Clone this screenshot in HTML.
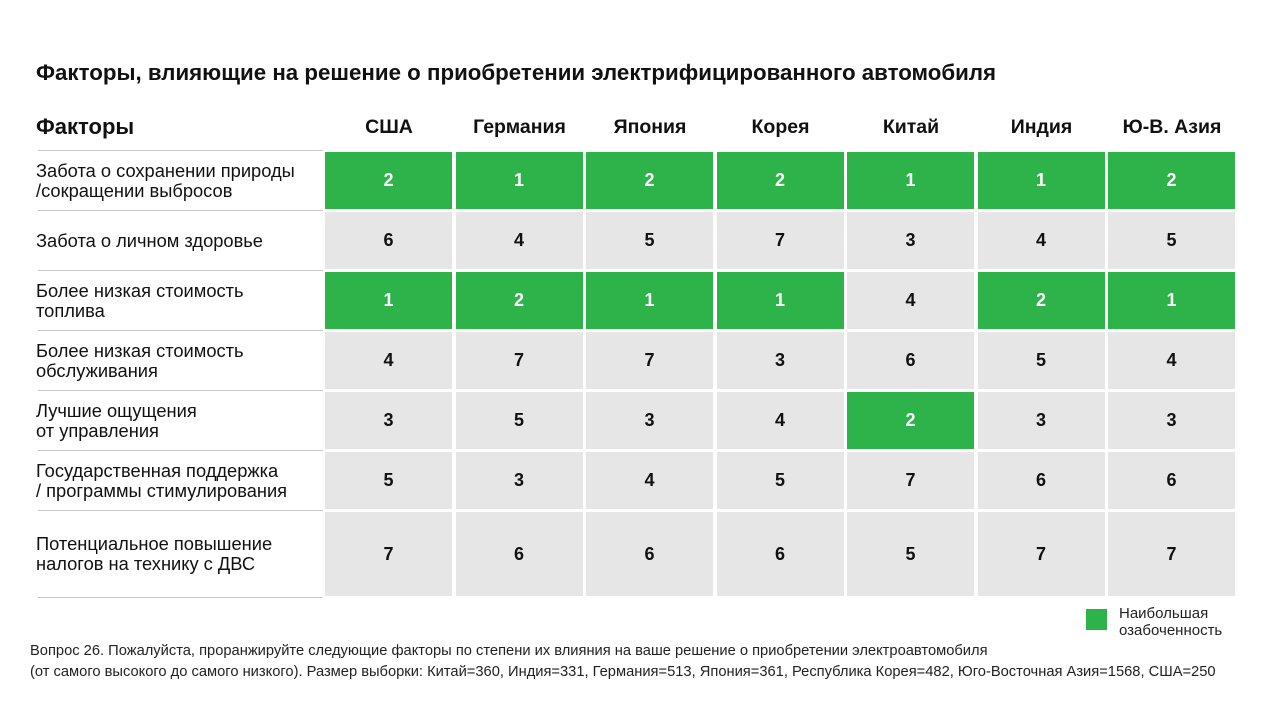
<!DOCTYPE html>
<html><head><meta charset="utf-8"><style>
body{margin:0;width:1280px;height:720px;background:#fff;font-family:"Liberation Sans","DejaVu Sans",sans-serif;position:relative;overflow:hidden}
.a{position:absolute}
.cell{position:absolute;display:flex;align-items:center;justify-content:center;font-weight:bold;font-size:18px}
.lab{position:absolute;left:36px;width:290px;font-size:18.3px;line-height:20px;color:#111;display:flex;align-items:center}
.hdr{position:absolute;top:116px;font-weight:bold;font-size:19.5px;text-align:center;width:128px;color:#111;white-space:nowrap}
</style></head><body>
<div class="a" style="left:36px;top:60px;font-size:22.3px;font-weight:bold;color:#111;white-space:nowrap">Факторы, влияющие на решение о приобретении электрифицированного автомобиля</div>
<div class="a" style="left:36px;top:114px;font-size:22px;font-weight:bold;color:#111">Факторы</div>
<div id="tbl"></div>
<div class="a" style="left:1086px;top:609px;width:21px;height:21px;background:#2db34a"></div>
<div class="a" style="left:1119px;top:605px;font-size:15px;line-height:17px;color:#222">Наибольшая<br>озабоченность</div>
<div class="a" style="left:30px;top:641px;font-size:14.7px;line-height:21px;color:#222;white-space:nowrap">Вопрос 26. Пожалуйста, проранжируйте следующие факторы по степени их влияния на ваше решение о приобретении электроавтомобиля<br>(от самого высокого до самого низкого). Размер выборки: Китай=360, Индия=331, Германия=513, Япония=361, Республика Корея=482, Юго-Восточная Азия=1568, США=250</div>
<script>
const countries=["США","Германия","Япония","Корея","Китай","Индия","Ю-В. Азия"];
const factors=["Забота о сохранении природы<br>/сокращении выбросов","Забота о личном здоровье","Более низкая стоимость<br>топлива","Более низкая стоимость<br>обслуживания","Лучшие ощущения<br>от управления","Государственная поддержка<br>/ программы стимулирования","Потенциальное повышение<br>налогов на технику с ДВС"];
const r0=[2,1,2,2,1,1,2];
const r1=[6,4,5,7,3,4,5];
const r2=[1,2,1,1,4,2,1];
const r3=[4,7,7,3,6,5,4];
const r4=[3,5,3,4,2,3,3];
const r5=[5,3,4,5,7,6,6];
const r6=[7,6,6,6,5,7,7];
const ranks=[r0,r1,r2,r3,r4,r5,r6];
const t=document.getElementById('tbl');
const colX=i=>325+i*130.5, rowY=j=>152+j*60, rowH=j=>j===6?84:57;
countries.forEach((c,i)=>{const h=document.createElement('div');h.className='hdr';


h.style.left=(colX(i))+'px';h.textContent=c;t.appendChild(h);});
factors.forEach((f,j)=>{const l=document.createElement('div');l.className='lab';


l.style.top=rowY(j)+'px';l.style.height=rowH(j)+'px';l.innerHTML=f;t.appendChild(l);
const s=document.createElement('div');s.className='a';


s.style.cssText=`left:38px;width:285px;height:1px;background:#c8c8c8;top:${rowY(j)+rowH(j)+1}px`;t.appendChild(s);
ranks[j].forEach((v,i)=>{const d=document.createElement('div');d.className='cell';


const g=v<=2;d.style.cssText+=`left:${colX(i)}px;top:${rowY(j)}px;width:127px;height:${rowH(j)}px;background:${g?'#2db34a':'#e6e6e6'};color:${g?'#fff':'#111'}`;
d.textContent=v;t.appendChild(d);});});
const s0=document.createElement('div');s0.className='a';


s0.style.cssText='left:38px;width:285px;height:1px;background:#c8c8c8;top:150px';t.appendChild(s0);
</script>
</body></html>
